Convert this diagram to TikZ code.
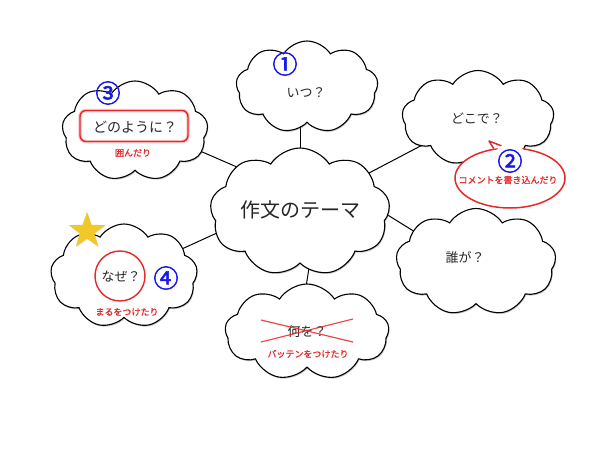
\documentclass[tikz,border=0pt]{standalone}
\usepackage{fontspec}
\setmainfont{Noto Sans CJK JP}
\newfontfamily\numfont[FakeBold=2.2]{Noto Sans CJK JP}
\newfontfamily\notefont[FakeBold=0.8]{Noto Sans CJK JP}
\usetikzlibrary{shapes.symbols,shapes.geometric,shadows,backgrounds,calc}
\definecolor{mred}{RGB}{232,40,40}
\definecolor{mblue}{RGB}{25,25,235}
\definecolor{mgold}{RGB}{240,200,40}
\begin{document}
\begin{tikzpicture}[x=1pt,y=-1pt,
  cl/.style={cloud, cloud puffs=9, cloud puff arc=115, draw=black, line width=1.1pt, fill=white, inner sep=0pt,
    drop shadow={shadow xshift=0.8pt, shadow yshift=-1.3pt, opacity=0.35, fill=black!60}},
  lbl/.style={font=\fontsize{13}{15}\selectfont, text=black!85, inner sep=0pt},
  num/.style={font=\numfont\fontsize{25}{27}\selectfont, text=mblue, inner sep=0pt},
  note/.style={font=\notefont\fontsize{9}{10}\selectfont, text=mred, inner sep=0pt},
  link/.style={line width=1pt},
  redmark/.style={draw=mred, line width=1.4pt}]
\useasboundingbox (0,0) rectangle (600,450);

% clouds
\node[cl, minimum width=180, minimum height=128] (c) at (300,212) {};
\node[cl, minimum width=142, minimum height=92] (t) at (307,87) {};
\node[cl, minimum width=146, minimum height=100] (tl) at (135,131) {};
\node[cl, minimum width=152, minimum height=95] (tr) at (478,118) {};
\node[cl, minimum width=147, minimum height=104] (l) at (124,276) {};
\node[cl, minimum width=160, minimum height=107] (r) at (476,262) {};
\node[cl, minimum width=164, minimum height=96] (b) at (307,332) {};

% link end points (hidden inside the clouds)
\coordinate (cT) at (300,170); \coordinate (tB) at (300,120);
\coordinate (cTL) at (260,177); \coordinate (tlR) at (170,138);
\coordinate (cTR) at (350,183); \coordinate (trL) at (430,141);
\coordinate (cL) at (230,227); \coordinate (lR) at (160,259);
\coordinate (cR) at (370,204); \coordinate (rL) at (440,247.5);
\coordinate (cB) at (311,255); \coordinate (bT) at (304,300);

% texts
\node[font=\fontsize{20}{22}\selectfont, text=black!85, inner sep=0pt] (ct) at (300,210) {作文のテーマ};
\node[lbl] (tt) at (306,93) {いつ？};
\node[num] (n1) at (285,64) {①};
\node[lbl] (trt) at (477,118) {どこで？};
\node[lbl, font=\fontsize{14}{16}\selectfont] (tlt) at (135,127) {どのように？};
\node[draw=mred!25, line width=3.5pt, rounded corners=6pt, minimum width=108, minimum height=31, inner sep=0pt] (rrg) at (134,126) {};
\node[redmark, rounded corners=6pt, minimum width=108, minimum height=31, inner sep=0pt] (rr) at (134,126) {};
\node[num] (n3) at (108,93) {③};
\node[note] (tln) at (133,153) {囲んだり};
\node[lbl] (lt) at (121,277) {なぜ？};
\node[redmark, circle, minimum size=50, inner sep=0pt] (rc) at (120,276) {};
\node[num] (n4) at (166,278) {④};
\node[note] (ln) at (127,312) {まるをつけたり};
\node[star, star points=5, star point ratio=2.5, fill=mgold, minimum size=38, inner sep=0pt,
  drop shadow={shadow xshift=0.6pt, shadow yshift=-0.8pt, opacity=0.25}] (st) at (87,231) {};
\node[lbl] (rt) at (465,258) {誰が？};
\node[lbl] (bt) at (307,332) {何を？};
\coordinate (x1a) at (261,320); \coordinate (x1b) at (353,342);
\coordinate (x2a) at (261,342); \coordinate (x2b) at (353,319);
\draw[mred, line width=1.2pt, opacity=0.85] (x1a) -- (x1b) (x2a) -- (x2b);
\node[note] (bn) at (308,354) {バッテンをつけたり};

% speech bubble
\node[ellipse, draw=mred, line width=1.5pt, fill=white, minimum width=110, minimum height=60, inner sep=0pt] (sb) at (510,178) {};
\coordinate (tip) at (489,141);
\fill[white] (sb.118) -- (tip) -- (sb.100) -- cycle;
\draw[mred, line width=1.5pt, line join=round] (sb.119) -- (tip) -- (sb.99);
\node[num, fill=white, circle, inner sep=0.3pt] (n2) at (510,161) {②};
\node[note] (sbt) at (508,180) {コメントを書き込んだり};

\begin{scope}[on background layer]
\fill[white] (0,0) rectangle (600,450);
\draw[link] (cT) -- (tB);
\draw[link] (cTL) -- (tlR);
\draw[link] (cTR) -- (trL);
\draw[link] (cL) -- (lR);
\draw[link] (cR) -- (rL);
\draw[link] (cB) -- (bT);
\end{scope}
\end{tikzpicture}
\end{document}
